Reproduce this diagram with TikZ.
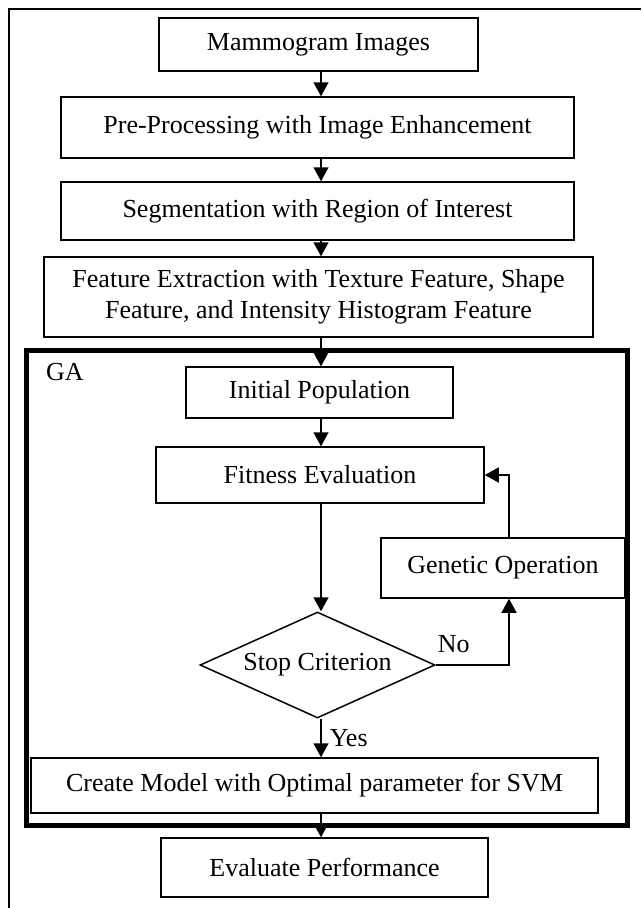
\documentclass[tikz,border=0pt]{standalone}
\usepackage{fontspec}
\setmainfont{Liberation Serif}
\usetikzlibrary{shapes.geometric, arrows.meta}

\begin{document}
\begin{tikzpicture}[x=1pt, y=-1pt,
  box/.style={draw, line width=1.5pt, inner sep=0pt, align=center,
    font=\fontsize{26}{31}\selectfont},
  decision/.style={draw, diamond, aspect=2.2, line width=1.5pt, inner sep=0pt,
    minimum width=235pt, minimum height=106pt,
    font=\fontsize{26}{31}\selectfont},
  flow/.style={line width=1.6pt, -{Triangle[width=15pt,length=14pt]}},
  lbl/.style={inner sep=0pt, font=\fontsize{26}{31}\selectfont}]

\useasboundingbox (0,0) rectangle (641,908);

% --- marco exterior (cortado a la derecha y abajo) ---
\draw[line width=1.5pt] (9,908) |- (641,9);

% --- etapas previas ---
\node[box, minimum width=319pt, minimum height=53pt] (mammo) at (318.5,44.5) {Mammogram Images};
\node[box, minimum width=513pt, minimum height=61pt] (preproc) at (317.5,127.5) {Pre-Processing with Image Enhancement};
\node[box, minimum width=513pt, minimum height=58pt] (segment) at (317.5,211) {Segmentation with Region of Interest};
\node[box, minimum width=549pt, minimum height=80pt] (feature) at (318.5,297)
  {Feature Extraction with Texture Feature, Shape\\Feature, and Intensity Histogram Feature};

% --- bloque GA ---
\draw[line width=5pt] (26.5,350.5) rectangle (627.5,825.5);
\node[lbl, anchor=west] (galbl) at (46,372) {GA};

\node[box, minimum width=267pt, minimum height=51pt] (initpop) at (319.5,392.5) {Initial Population};
\node[box, minimum width=328pt, minimum height=56pt] (fitness) at (320,475) {Fitness Evaluation};
\node[box, minimum width=244pt, minimum height=60pt] (genetic) at (503,568) {Genetic Operation};
\node[decision] (stop) at (317.5,665) {Stop Criterion};
\node[box, minimum width=567pt, minimum height=55pt] (create) at (314.5,785.5) {Create Model with Optimal parameter for SVM};

% --- salida ---
\node[box, minimum width=327pt, minimum height=59pt] (evalperf) at (324.5,867.5) {Evaluate Performance};

% ejes de las flechas
\coordinate (spine) at (321,0);
\coordinate (loop) at (509,0);

% flechas del flujo principal
\draw[flow] (mammo.south -| spine) -- (preproc.north -| spine);
\draw[flow] (preproc.south -| spine) -- (segment.north -| spine);
\draw[flow] (segment.south -| spine) -- (feature.north -| spine);
\draw[flow] (feature.south -| spine) -- (initpop.north -| spine);
\draw[flow] (initpop.south -| spine) -- (fitness.north -| spine);
\draw[flow] (fitness.south -| spine) -- (stop.north -| spine);
\draw[flow] (stop.south -| spine) -- (create.north -| spine)
  node[lbl, midway, anchor=west, xshift=8pt] {Yes};
\draw[flow] (create.south -| spine) -- (evalperf.north -| spine);

% bucle: no se cumple el criterio
\draw[flow] (stop.east) -| (genetic.south -| loop);
\node[lbl, anchor=south west, xshift=2pt, yshift=12pt] (nolbl) at (stop.east) {No};
\draw[flow] (genetic.north -| loop) |- (fitness.east);

\end{tikzpicture}
\end{document}
